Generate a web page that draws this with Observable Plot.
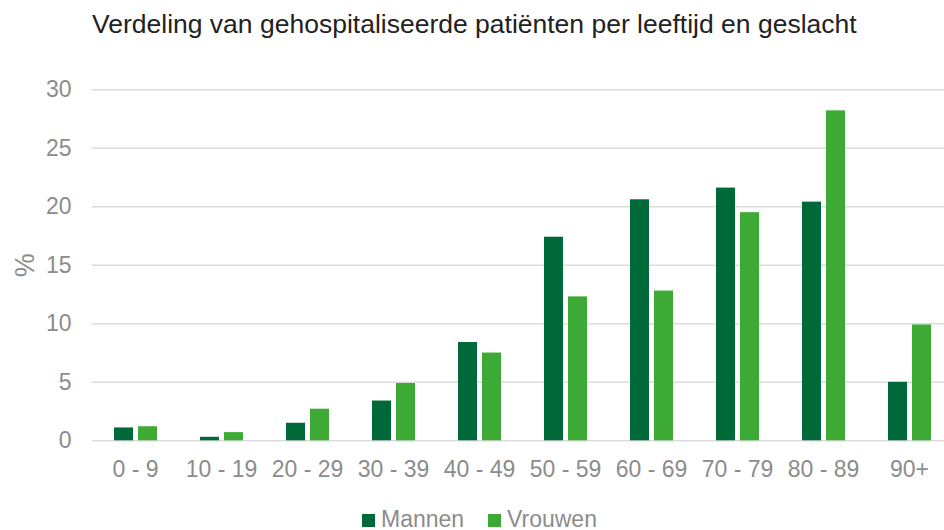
<!DOCTYPE html>
<html>
<head>
<meta charset="utf-8">
<script src="https://cdn.jsdelivr.net/npm/d3@7"></script>
<script src="https://cdn.jsdelivr.net/npm/@observablehq/plot@0.6"></script>
<style>
  html, body { margin: 0; padding: 0; background: #fff; overflow: hidden; }
  #wrap { position: relative; width: 944px; height: 530px; overflow: hidden; font-family: "Liberation Sans", Arial, sans-serif; }
  #title { position: absolute; left: 92px; top: 11px; font-size: 26.5px; line-height: 26px; color: #222; white-space: nowrap; }
  #chart { position: absolute; left: 0; top: 60px; width: 952px; }
  #chart svg { max-width: none !important; }
  #legend { position: absolute; left: 362px; top: 508px; font-size: 23px; line-height: 23px; color: #8c8c8c; white-space: nowrap; }
  .item { position: absolute; top: 0; }
  .sw { position: absolute; top: 6px; width: 13px; height: 13px; }
  .lab { position: absolute; top: 0; left: 19px; }
</style>
</head>
<body>
<div id="wrap">
  <div id="title">Verdeling van gehospitaliseerde patiënten per leeftijd en geslacht</div>
  <div id="chart"></div>
  <div id="legend"></div>
</div>
<script>
const ages = ["0 - 9", "10 - 19", "20 - 29", "30 - 39", "40 - 49", "50 - 59", "60 - 69", "70 - 79", "80 - 89", "90+"];
const mannen = [1.1, 0.3, 1.5, 3.4, 8.4, 17.4, 20.6, 21.6, 20.4, 5.0];
const vrouwen = [1.2, 0.7, 2.7, 4.9, 7.5, 12.3, 12.8, 19.5, 28.2, 9.9];
const series = ["Mannen", "Vrouwen"];
const colors = ["#00693a", "#3daa35"];
const yTicks = [0, 5, 10, 15, 20, 25, 30];

const data = ages.flatMap((a, i) => [
  {age: a, sex: series[0], value: mannen[i]},
  {age: a, sex: series[1], value: vrouwen[i]}
]);

const chart = Plot.plot({
  width: 952,
  height: 440,
  marginLeft: 92,
  marginRight: 0,
  marginTop: 29.3,
  marginBottom: 59.7,
  style: {fontFamily: "'Liberation Sans', Arial, sans-serif", fontSize: "23px", color: "#8c8c8c", background: "transparent", overflow: "visible", maxWidth: "none"},
  fx: {domain: ages, padding: 0, label: null, axis: null},
  x: {domain: series, axis: null, paddingInner: 0.221, paddingOuter: 0.873},
  y: {domain: [0, 30], axis: null},
  color: {domain: series, range: colors},
  marks: [
    Plot.gridY(yTicks, {stroke: "#dcdcdc", strokeOpacity: 1, strokeWidth: 1.5}),
    Plot.barY(data, {fx: "age", x: "sex", y: "value", fill: "sex"}),
    Plot.axisFx({anchor: "bottom", tickSize: 0, tickPadding: 20, label: null, fontSize: 23}),
    Plot.axisY(yTicks, {anchor: "left", tickSize: 0, tickPadding: 21, label: null, fontSize: 23}),
    Plot.axisY([], {anchor: "left", tickSize: 0, label: "%", labelAnchor: "center", labelOffset: 78, labelArrow: "none", fontSize: 27})
  ]
});
document.getElementById("chart").appendChild(chart);

const legend = document.getElementById("legend");
const offsets = [0, 126];
series.forEach((s, i) => {
  const item = document.createElement("div");
  item.className = "item";
  item.style.left = offsets[i] + "px";
  const sw = document.createElement("div");
  sw.className = "sw";
  sw.style.background = colors[i];
  const lab = document.createElement("div");
  lab.className = "lab";
  lab.textContent = s;
  item.appendChild(sw);
  item.appendChild(lab);
  legend.appendChild(item);
});
</script>
</body>
</html>
